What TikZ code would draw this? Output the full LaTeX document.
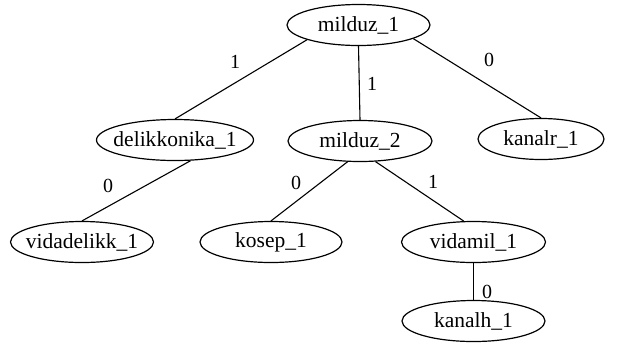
\documentclass[tikz,border=0pt]{standalone}
\usepackage{fontspec}
\setmainfont{Liberation Serif}
\usetikzlibrary{shapes.geometric}
\begin{document}
\begin{tikzpicture}[x=1pt,y=-1pt,
  tnode/.style={draw,ellipse,line width=1.2pt,inner xsep=-14pt,inner ysep=0pt,minimum height=41pt,font=\fontsize{21.5}{21.5}\selectfont},
  edge/.style={line width=1.1pt},
  lbl/.style={font=\fontsize{20}{20}\selectfont,inner sep=0pt}]
\useasboundingbox (0,0) rectangle (620,360);
\node[tnode,minimum width=143pt] (m1) at (358.5,25) {milduz\_1};
\node[tnode,minimum width=157pt] (d1) at (175,140) {delikkonika\_1};
\node[tnode,minimum width=144pt] (m2) at (360,141) {milduz\_2};
\node[tnode,minimum width=126pt] (kr) at (541,139) {kanalr\_1};
\node[tnode,minimum width=143pt] (vd) at (82,242) {vidadelikk\_1};
\node[tnode,minimum width=142pt] (ks) at (271,242) {kosep\_1};
\node[tnode,minimum width=144pt] (vm) at (473.5,242) {vidamil\_1};
\node[tnode,minimum width=143pt] (kh) at (473.5,321) {kanalh\_1};
\draw[edge] (m1.196) -- (d1.north);
\draw[edge] (m1.south) -- (m2.north);
\draw[edge] (m1.346) -- (kr.north);
\draw[edge] (d1.-53) -- (vd.north);
\draw[edge] (m2.239) -- (ks.north);
\draw[edge] (m2.307) -- (vm.115);
\draw[edge] (vm.south) -- (kh.north);
\node[lbl] (l1) at (235,62) {1};
\node[lbl] (l2) at (372,84) {1};
\node[lbl] (l3) at (489,60) {0};
\node[lbl] (l4) at (108,186) {0};
\node[lbl] (l5) at (296,183) {0};
\node[lbl] (l6) at (433,182) {1};
\node[lbl] (l7) at (487,292) {0};
\end{tikzpicture}
\end{document}
